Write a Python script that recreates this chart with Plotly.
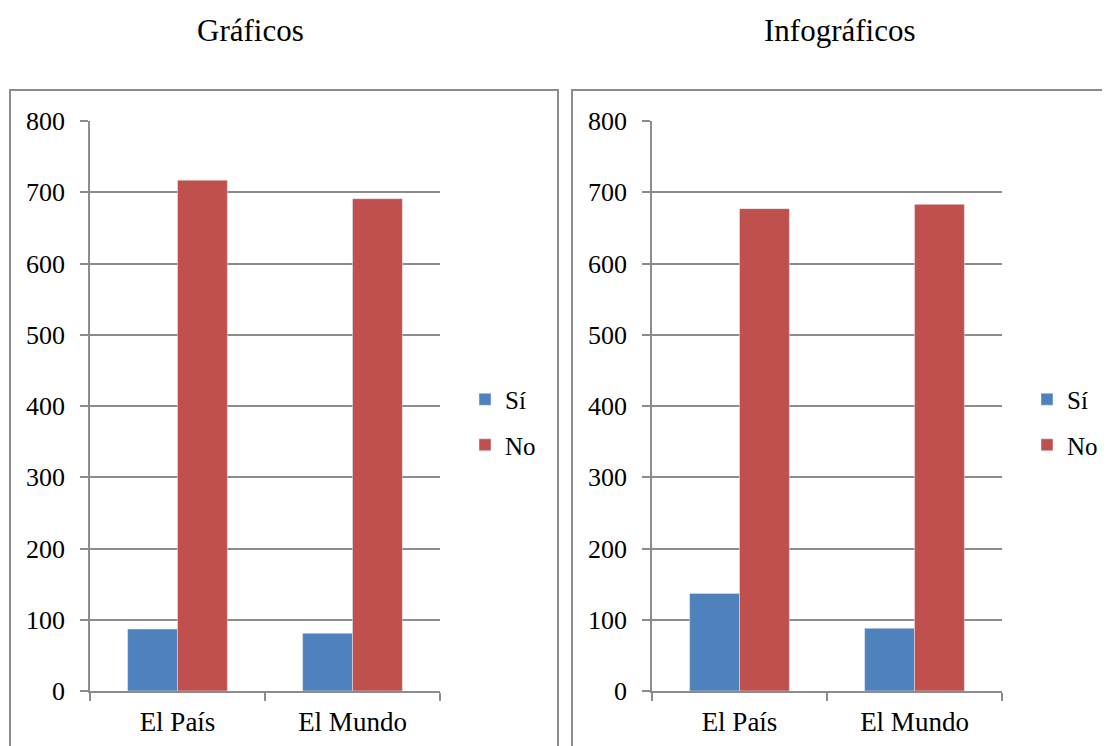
import plotly.graph_objects as go

categories = ["El País", "El Mundo"]
graficos_si = [87, 81]
graficos_no = [717, 691]
infograficos_si = [137, 88]
infograficos_no = [677, 683]
series_names = ["Sí", "No"]
titles = ["Gráficos", "Infográficos"]
y_ticks = [0, 100, 200, 300, 400, 500, 600, 700, 800]

W, H = 1110, 746
OFF = 8  # default page body margin
BLUE = "#4F81BD"
RED = "#C0504D"
GRAY = "#8c8c8c"
FONT = "Liberation Serif, Times New Roman, serif"

def px(x):
    return (x - OFF) / W

def py(y):
    return (H - (y - OFF)) / H

fig = go.Figure()

panels = [
    (graficos_si, graficos_no, "x", "y", "legend"),
    (infograficos_si, infograficos_no, "x2", "y2", "legend2"),
]
for si, no, xa, ya, lg in panels:
    fig.add_trace(go.Bar(x=categories, y=si, name=series_names[0], marker_color=BLUE,
                         xaxis=xa, yaxis=ya, legend=lg, legendgroup=lg + "a"))
    fig.add_trace(go.Bar(x=categories, y=no, name=series_names[1], marker_color=RED,
                         xaxis=xa, yaxis=ya, legend=lg, legendgroup=lg + "b"))

ydom = [py(691), py(121)]
axis_common_y = dict(range=[0, 800], tickvals=y_ticks, showgrid=True, gridcolor=GRAY,
                     gridwidth=1.5, showline=True, linecolor=GRAY, linewidth=1.5,
                     ticks="outside", ticklen=8, tickcolor=GRAY, tickwidth=1.5,
                     zeroline=False, tickfont=dict(family=FONT, size=26, color="black"),
                     ticklabelstandoff=10,
                     domain=ydom, fixedrange=True, automargin=False)
axis_common_x = dict(showline=True, linecolor=GRAY, linewidth=1.5, ticks="outside",
                     tickson="boundaries", ticklen=8, tickcolor=GRAY, tickwidth=1.5,
                     showgrid=False, tickfont=dict(family=FONT, size=27, color="black"),
                     ticklabelstandoff=6,
                     fixedrange=True, automargin=False)

fig.update_layout(
    width=W, height=H,
    margin=dict(l=0, r=0, t=0, b=0, autoexpand=False),
    paper_bgcolor="white", plot_bgcolor="white",
    barmode="group", bargap=0.43, bargroupgap=0,
    xaxis=dict(domain=[px(90), px(440)], anchor="y", **axis_common_x),
    yaxis=dict(anchor="x", **axis_common_y),
    xaxis2=dict(domain=[px(652), px(1002)], anchor="y2", **axis_common_x),
    yaxis2=dict(anchor="x2", **axis_common_y),
    legend=dict(x=px(465), y=py(422), xanchor="left", yanchor="middle",
                font=dict(family=FONT, size=25, color="black"),
                tracegroupgap=10, traceorder="grouped", bgcolor="rgba(0,0,0,0)"),
    legend2=dict(x=px(1027), y=py(422), xanchor="left", yanchor="middle",
                 font=dict(family=FONT, size=25, color="black"),
                 tracegroupgap=10, traceorder="grouped", bgcolor="rgba(0,0,0,0)"),
    shapes=[
        dict(type="rect", xref="paper", yref="paper", x0=px(10), x1=px(558),
             y0=py(770), y1=py(90), line=dict(color=GRAY, width=2), layer="below"),
        dict(type="rect", xref="paper", yref="paper", x0=px(572), x1=px(1130),
             y0=py(770), y1=py(90), line=dict(color=GRAY, width=2), layer="below"),
    ],
    annotations=[
        dict(text=titles[0], x=px(250), y=py(30), xref="paper", yref="paper",
             showarrow=False, xanchor="center", yanchor="middle",
             font=dict(family=FONT, size=31, color="black")),
        dict(text=titles[1], x=px(840), y=py(30), xref="paper", yref="paper",
             showarrow=False, xanchor="center", yanchor="middle",
             font=dict(family=FONT, size=31, color="black")),
    ],
)

fig.write_html("out.html")
